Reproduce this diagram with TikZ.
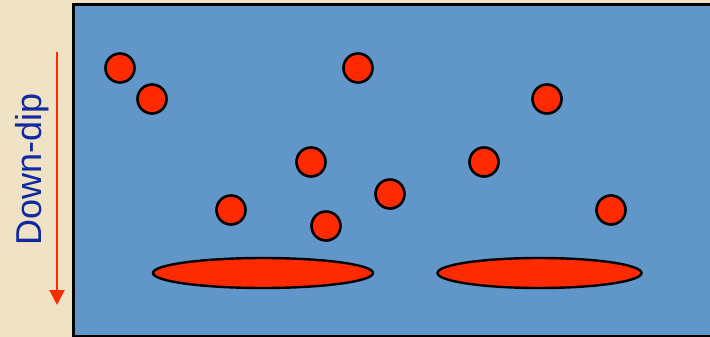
\documentclass[tikz,border=0pt]{standalone}
\usepackage{fontspec}
\setmainfont{Liberation Sans}
\usetikzlibrary{shapes.geometric}
\usetikzlibrary {arrows.meta}
\tikzset{>=Stealth}
\definecolor{parch}{RGB}{240,226,196}
\definecolor{seam}{RGB}{96,150,200}
\definecolor{oil}{RGB}{255,42,0}
\definecolor{dipblue}{RGB}{16,40,160}
\tikzset{
	blob/.style={circle, draw, line width=2.6pt, fill=oil, minimum size=29pt, inner sep=0pt},
	pool/.style={ellipse, draw, line width=2.4pt, fill=oil, inner sep=0pt}
}

\begin{document}
\begin{tikzpicture}[x=1pt, y=-1pt]
\useasboundingbox (0, 0) rectangle (710, 337);
\fill [parch] (0, 0) rectangle (710, 337);
\draw [line width=3pt, fill=seam] (73, 5) rectangle (716, 336);

% droplets
\node [blob] (b1) at (120, 68) {};
\node [blob] (b2) at (152, 99) {};
\node [blob] (b3) at (358, 68) {};
\node [blob] (b4) at (547, 99) {};
\node [blob] (b5) at (311, 162) {};
\node [blob] (b6) at (484, 162) {};
\node [blob] (b7) at (390, 194) {};
\node [blob] (b8) at (231, 210) {};
\node [blob] (b9) at (326, 226) {};
\node [blob] (b10) at (611, 210) {};

% pooled layers
\node [pool, minimum width=220pt, minimum height=30pt] (p1) at (263, 273) {};
\node [pool, minimum width=204pt, minimum height=30pt] (p2) at (539.5, 273) {};

	\coordinate (dtop) at (57, 52);
	\coordinate (dbot) at (57, 305);
	\draw [oil, line width=2pt, -{Triangle[width=15pt, length=15pt]}] (dtop) -- (dbot);
	\node [rotate=90, anchor=base, inner sep=0pt, text=dipblue, font=\fontsize{36}{36}\selectfont] (dd) at (41, 169) {Down-dip};
\end{tikzpicture}
\end{document}
